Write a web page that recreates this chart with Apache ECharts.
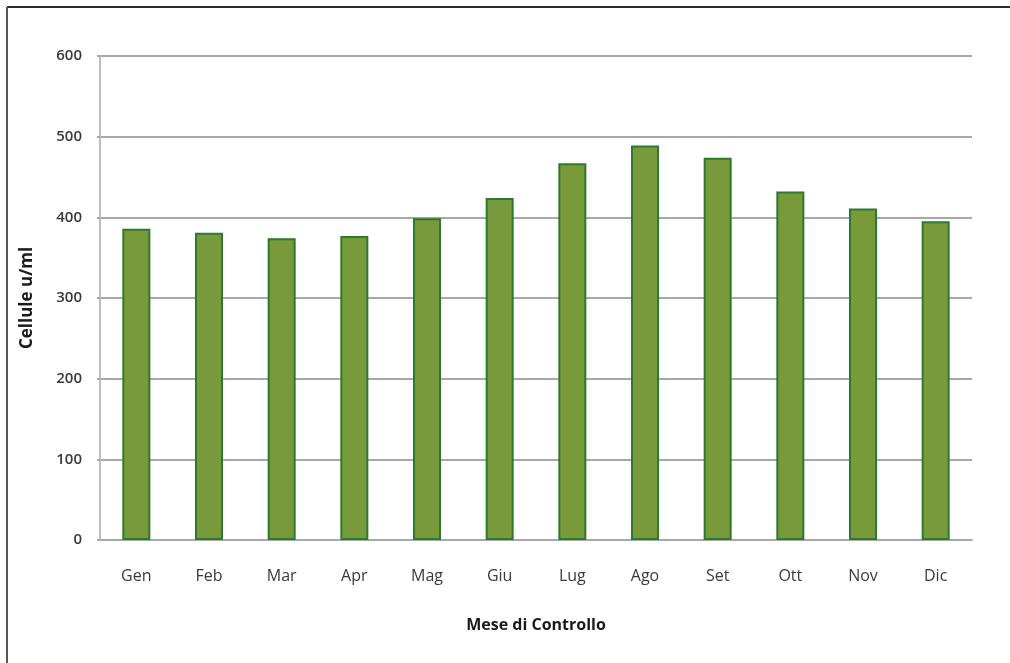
<!DOCTYPE html>
<html>
<head>
<meta charset="utf-8">
<script src="https://cdn.jsdelivr.net/npm/echarts@6/dist/echarts.min.js"></script>
<style>
  html, body { margin: 0; padding: 0; background: #ffffff; }
  #chart { width: 1010px; height: 663px; }
</style>
</head>
<body>
<div id="chart"></div>
<script>
// Monthly somatic cell counts (cellule u/ml) by control month
const months = ['Gen', 'Feb', 'Mar', 'Apr', 'Mag', 'Giu', 'Lug', 'Ago', 'Set', 'Ott', 'Nov', 'Dic'];
const cellValues = [386, 381, 374, 377, 399, 424, 467, 489, 474, 432, 411, 395];
const yTicks = { min: 0, max: 600, step: 100 };

const textFont = '"Open Sans", "Liberation Sans", sans-serif';
const chart = echarts.init(document.getElementById('chart'), null, { renderer: 'canvas' });

chart.setOption({
  backgroundColor: '#ffffff',
  animation: false,
  graphic: [
    { type: 'line', shape: { x1: 7, y1: 7, x2: 1010, y2: 7 }, style: { stroke: '#2b2b2b', lineWidth: 2 } },
    { type: 'line', shape: { x1: 7, y1: 7, x2: 7, y2: 663 }, style: { stroke: '#555555', lineWidth: 2 } }
  ],
  grid: { left: 100, right: 38, top: 56, bottom: 123, containLabel: false },
  xAxis: {
    type: 'category',
    data: months,
    name: 'Mese di Controllo',
    nameLocation: 'middle',
    nameGap: 77,
    nameTextStyle: { fontFamily: textFont, fontSize: 16, fontWeight: 'bold', color: '#1a1a1a' },
    axisLine: { lineStyle: { color: '#a8a8a8', width: 2 } },
    axisTick: { show: false },
    axisLabel: { fontFamily: textFont, fontSize: 16, color: '#3a3a3a', margin: 28 }
  },
  yAxis: {
    type: 'value',
    min: yTicks.min,
    max: yTicks.max,
    interval: yTicks.step,
    name: 'Cellule u/ml',
    nameLocation: 'middle',
    nameGap: 64,
    nameTextStyle: { fontFamily: textFont, fontSize: 17, fontWeight: 'bold', color: '#1a1a1a' },
    axisLine: { show: true, lineStyle: { color: '#bdbdbd', width: 2 } },
    axisTick: { show: true, length: 3, lineStyle: { color: '#a8a8a8', width: 2 } },
    axisLabel: { fontFamily: textFont, fontSize: 15, fontWeight: 600, color: '#3a3a3a', margin: 18 },
    splitLine: { lineStyle: { color: '#a8a8a8', width: 2 } }
  },
  series: [{
    type: 'bar',
    data: cellValues,
    barWidth: 28,
    itemStyle: { color: '#789a3a', borderColor: '#2c7a2e', borderWidth: 2 }
  }]
});
</script>
</body>
</html>
